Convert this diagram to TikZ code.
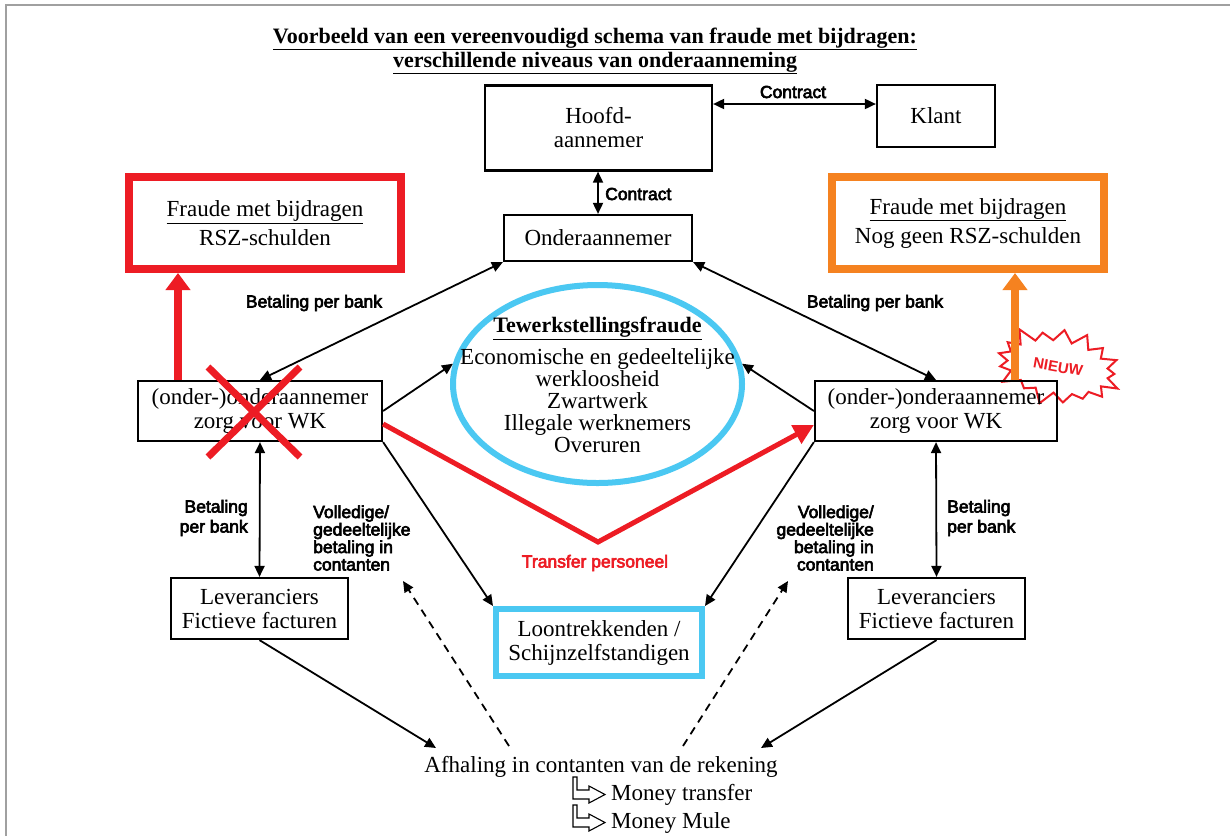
\documentclass[tikz,border=0pt]{standalone}
\usepackage{fontspec}
\setmainfont{Liberation Serif}
\newfontfamily\labfamily[FakeBold=3.5]{Liberation Sans}
\newfontfamily\nieuwfamily{Liberation Sans}
\usetikzlibrary{arrows.meta,shapes.geometric,shapes.symbols,calc}
\definecolor{fred}{HTML}{ED1C24}
\definecolor{forange}{HTML}{F58220}
\definecolor{fcyan}{HTML}{4BC8F2}
\definecolor{framegray}{HTML}{A0A0A0}
\newcommand\bodyfont{\fontsize{23}{24}\selectfont}
\newcommand\fraudfont{\fontsize{23}{29}\selectfont}
\newcommand\ellfont{\fontsize{23}{22}\selectfont}
\newcommand\titlefont{\bfseries\fontsize{22}{21}\selectfont}
\newcommand\labsize{\labfamily\fontsize{17.5}{20}\selectfont}
\newcommand\volsize{\labfamily\fontsize{17.5}{17.5}\selectfont}
\tikzset{
  box/.style={draw, line width=2.2pt, inner sep=0pt, align=center, font=\bodyfont},
  lab/.style={font=\labsize, inner sep=0pt},
  arr/.style={line width=1.8pt, -{Triangle[length=11pt,width=10pt]}},
  darr/.style={line width=1.8pt, {Triangle[length=11pt,width=10pt]}-{Triangle[length=11pt,width=10pt]}},
  dasharr/.style={line width=1.8pt, dash pattern=on 8pt off 6pt, -{Triangle[length=11pt,width=10pt]}},
  fatarr/.style={line width=8pt, -{Triangle[length=17pt,width=24pt]}},
  icon/.style={line width=1.1pt, fill=white, line join=miter},
}
\begin{document}
\begin{tikzpicture}[x=1pt,y=-1pt]
\useasboundingbox (0,0) rectangle (1230,836);
\fill[white] (0,0) rectangle (1230,836);
\draw[framegray, line width=1.5pt] (6,836) -- (6,5) -- (1230,5);

% title
\node[font=\titlefont, align=center, inner sep=0pt] (title) at (595,51)
  {\underline{Voorbeeld van een vereenvoudigd schema van fraude met bijdragen:}\\[1pt]
   \underline{verschillende niveaus van onderaanneming}};

% top boxes
\node[box, minimum width=227pt, minimum height=85pt] (hoofd) at (598.5,128) {Hoofd-\\aannemer};
\node[box, minimum width=118pt, minimum height=62pt] (klant) at (936,116) {Klant};
\node[box, minimum width=188pt, minimum height=46pt] (onder) at (598,238) {Onderaannemer};

% fraud boxes
\node[box, font=\fraudfont, draw=fred, line width=8pt, minimum width=272pt, minimum height=92pt] (fraudeL) at (265,223)
  {\underline{Fraude met bijdragen}\\RSZ-schulden};
\node[box, font=\fraudfont, draw=forange, line width=8pt, minimum width=272pt, minimum height=92pt] (fraudeR) at (968,223)
  {\underline{Fraude met bijdragen}\\Nog geen RSZ-schulden};

% starburst
\node[starburst, draw=fred, fill=white, line width=2pt, minimum width=134pt, minimum height=84pt,
      starburst points=17, starburst point height=16pt, random starburst=100,
      rotate=-10, font=\nieuwfamily\bfseries\fontsize{15}{15}\selectfont, text=fred, inner sep=0pt] (nieuw) at (1058,367) {NIEUW};

% middle boxes
\node[box, minimum width=244pt, minimum height=60pt] (oooL) at (260,411) {(onder-)onderaannemer\\zorg voor WK};
\node[box, minimum width=242pt, minimum height=60pt] (oooR) at (936,411) {(onder-)onderaannemer\\zorg voor WK};

% ellipse
\node[ellipse, draw=fcyan, line width=6pt, minimum width=289pt, minimum height=198pt, inner sep=0pt] (ell) at (597.5,384) {};
\node[font=\ellfont, align=center, inner sep=0pt] (ellT) at (597.5,385)
  {{\bfseries\fontsize{22}{22}\selectfont\underline{Tewerkstellingsfraude}}\\[8pt]
   Economische en gedeeltelijke\\werkloosheid\\Zwartwerk\\Illegale werknemers\\Overuren};

% bottom boxes
\node[box, draw=fcyan, line width=6pt, minimum width=206pt, minimum height=67pt] (loon) at (599,642.5)
  {Loontrekkenden /\\Schijnzelfstandigen};
\node[box, minimum width=177pt, minimum height=61pt] (levL) at (259.5,608.5) {Leveranciers\\Fictieve facturen};
\node[box, minimum width=177pt, minimum height=61pt] (levR) at (936.5,608.5) {Leveranciers\\Fictieve facturen};

% cash withdrawal
\node[font=\bodyfont, inner sep=0pt] (afh) at (601,767) {Afhaling in contanten van de rekening};
\node[font=\bodyfont, inner sep=0pt, anchor=west] (mt) at (611,795) {Money transfer};
\node[font=\bodyfont, inner sep=0pt, anchor=west] (mm) at (611,823) {Money Mule};
\coordinate (afhL) at (436,748);
\coordinate (afhR) at (761,748);
\coordinate (dashLs) at (509,746);
\coordinate (dashLe) at (403,581);
\coordinate (dashRs) at (683,746);
\coordinate (dashRe) at (788,581);

% labels
\node[lab] (c1) at (793,92) {Contract};
\node[lab, anchor=west] (c2) at (605,194) {Contract};
\node[lab] (bpbL) at (314,303) {Betaling per bank};
\node[lab] (bpbR) at (875,303) {Betaling per bank};
\node[lab, align=right, anchor=east] (bpbLv) at (248,518) {Betaling\\per bank};
\node[lab, align=left, anchor=west] (bpbRv) at (947,518) {Betaling\\per bank};
\node[font=\volsize, inner sep=0pt, align=left, anchor=west] (volL) at (313,538) {Volledige/\\gedeeltelijke\\betaling in\\contanten};
\node[font=\volsize, inner sep=0pt, align=right, anchor=east] (volR) at (874,538) {Volledige/\\gedeeltelijke\\betaling in\\contanten};
\node[lab, text=fred] (tp) at (595,563) {Transfer personeel};

% black connectors
\draw[darr] (hoofd.north east |- 0,104) -- (klant.north west |- 0,104);
\draw[darr] (onder.north |- hoofd.south) -- (onder.north);
\draw[darr] (oooL.north) -- (onder.south west);
\draw[darr] (oooR.north) -- (onder.south east);
\draw[arr] (oooL.east) -- (ell.172);
\draw[arr] (oooR.west) -- (ell.8);
\draw[arr] (oooL.south east) -- (loon.north west);
\draw[arr] (oooR.south west) -- (loon.north east);
\draw[darr] (oooL.south) -- (levL.north);
\draw[darr] (oooR.south) -- (levR.north);
\draw[arr] (levL.south) -- (afhL);
\draw[arr] (levR.south) -- (afhR);
\draw[dasharr] (dashLs) -- (dashLe);
\draw[dasharr] (dashRs) -- (dashRe);

% red / orange arrows
\draw[fatarr, fred] (178,0 |- oooL.north) -- (178,0 |- fraudeL.south);
\draw[fatarr, forange] (1015,0 |- oooR.north) -- (1015,0 |- fraudeR.south);
\draw[fred, line width=5pt, line join=miter, -{Triangle[length=20pt,width=20pt]}]
  (oooL.-6.5) -- (598,542) -- (oooR.west |- 0,425);

% red cross
\draw[fred, line width=7pt] (208,367) -- (300,457) (300,367) -- (208,457);

% money icons
\draw[icon, shift={(573,777)}] (0,0) -- (4,0) -- (4,13) -- (16,13) -- (16,9) -- (32,17.5) -- (16,26) -- (16,22) -- (0,22) -- cycle;
\draw[icon, shift={(573,805)}] (0,0) -- (4,0) -- (4,13) -- (16,13) -- (16,9) -- (32,17.5) -- (16,26) -- (16,22) -- (0,22) -- cycle;
\end{tikzpicture}
\end{document}
